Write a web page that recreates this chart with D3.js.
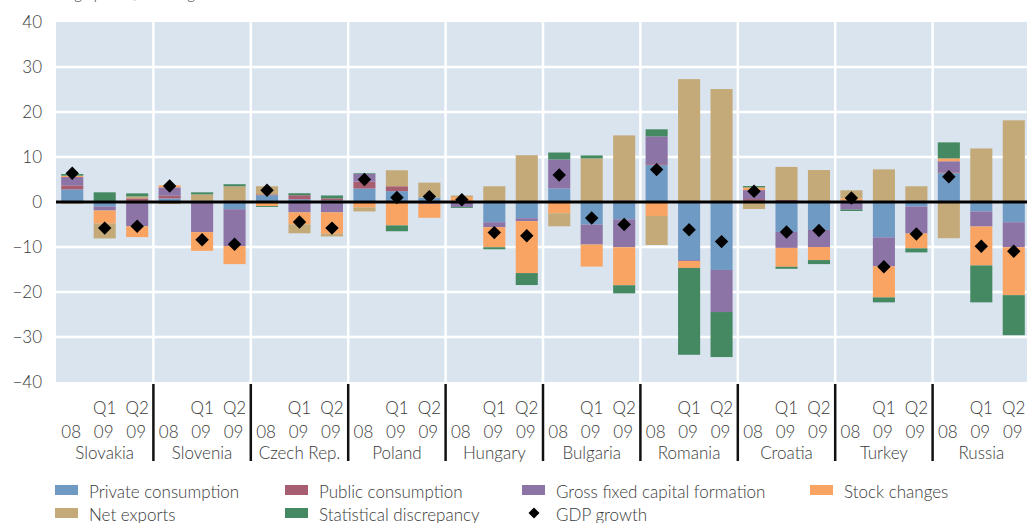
<!DOCTYPE html>
<html>
<head>
  <meta charset="utf-8">
  <style>
    body { margin: 0; background: #fff; }
    svg text { font-family: "Lato", "Open Sans", sans-serif; font-weight: 300; fill: #3a3a3a; }
  </style>
</head>
<body>
  <svg></svg>
  <script src="https://d3js.org/d3.v7.min.js"></script>
  <script>
    // chart data
    const countries = ["Slovakia", "Slovenia", "Czech Rep.", "Poland", "Hungary",
                       "Bulgaria", "Romania", "Croatia", "Turkey", "Russia"];
    const periods = ["08", "Q1 09", "Q2 09"];
    const tickTop = ["", "Q1", "Q2"];
    const tickBottom = ["08", "09", "09"];

    // contributions, percentage points (3 periods per country)
    const privateCons = [2.8, -1.0, 0,   0.8, 0, -1.6,   1.5, 0.6, 0.35,   3.0, 2.4, 1.0,   0, -4.5, -3.6,
                         3.0, -5.0, -3.85,   8.2, -12.9, -15.1,   0, -6.65, -6.2,   0, -7.85, -1.0,   6.4, -2.1, -4.5];
    const publicCons = [0.9, 0, 0.8,   0.6, 0.3, 0.3,   0.2, 0.9, 0.45,   1.55, 1.1, 0,   0, 0, 0,
                        0, 0, 0.35,   0.2, 0, 0,   0.65, 0.45, 0,   0.35, 0, 0,   0.2, 0, 0];
    const gfcf = [1.85, -0.9, -5.4,   1.85, -6.7, -8.2,   0, -2.3, -2.3,   1.7, 0, -0.4,   -1.1, -1.1, -0.65,
                  6.45, -4.45, -6.2,   6.2, -0.2, -9.35,   2.0, -3.55, -3.8,   -1.7, -6.45, -6.0,   2.45, -3.35, -5.55];
    const stockChg = [0.3, -2.9, -2.4,   0.45, -4.15, -4.0,   -0.9, -2.65, -4.75,   -1.2, -5.2, -3.1,   1.1, -4.45, -11.55,
                      -2.5, -4.9, -8.45,   -3.1, -1.55, 0,   0.6, -4.2, -2.9,   0.45, -6.9, -3.3,   0.65, -8.65, -10.65];
    const netExports = [-0.37, -3.3, 0.45,   -0.45, 1.4, 3.2,   1.8, -2.0, -0.6,   -0.9, 3.55, 3.3,   0.35, 3.5, 10.4,
                        -2.9, 9.7, 14.45,   -6.45, 27.3, 25.1,   -1.55, 7.35, 7.1,   1.8, 7.25, 3.5,   -8.05, 11.9, 18.15];
    const statDisc = [0.37, 2.15, 0.67,   0, 0.45, 0.45,   -0.2, 0.45, 0.65,   0.15, -1.3, 0,   -0.2, -0.45, -2.65,
                      1.55, 0.65, -1.8,   1.55, -19.3, -10.0,   0.3, -0.45, -0.9,   -0.3, -1.1, -0.9,   3.55, -8.2, -8.9];
    const gdpGrowth = [6.4, -5.8, -5.4,   3.55, -8.4, -9.4,   2.6, -4.45, -5.8,   5.0, 1.0, 1.2,   0.5, -6.8, -7.5,
                       6.0, -3.55, -5.0,   7.2, -6.15, -8.8,   2.4, -6.65, -6.35,   0.9, -14.4, -7.1,   5.6, -9.85, -10.95];

    const seriesNames = ["Private consumption", "Public consumption", "Gross fixed capital formation",
                         "Stock changes", "Net exports", "Statistical discrepancy"];
    const seriesColors = ["#6f9ac4", "#a75e70", "#8c74a7", "#f9a462", "#c4aa78", "#458962"];

    let width = 1027, height = 523;
    let svg = d3.select("svg").attr("width", width).attr("height", height);

    const plotLeft = 56, plotRight = 1030, plotTop = 22, plotBottom = 382;

    let y = d3.scaleLinear().domain([-40, 40]).range([plotBottom, plotTop]);
    let x0 = d3.scaleBand().domain(countries).range([plotLeft, plotRight]);
    let x1 = d3.scaleBand().domain(periods).range([0, x0.bandwidth()])
      .paddingInner(0.32).paddingOuter(0.16);

    // build a row for every bar
    const allSeries = [privateCons, publicCons, gfcf, stockChg, netExports, statDisc];
    let rows = [];
    countries.forEach((c, i) => {
      periods.forEach((p, j) => {
        let k = i * 3 + j;
        let r = { country: c, period: p, gdp: gdpGrowth[k] };
        seriesNames.forEach((s, si) => r[s] = allSeries[si][k]);
        rows.push(r);
      });
    });

    let stacked = d3.stack().keys(seriesNames).offset(d3.stackOffsetDiverging)(rows);
    let color = d3.scaleOrdinal().domain(seriesNames).range(seriesColors);

    // units line, mostly cut off at the top
    svg.append("text").attr("x", 18).attr("y", -1).style("font-size", "15px")
      .text("Percentage points, % change");

    // plot background
    svg.append("rect").attr("x", plotLeft).attr("y", plotTop)
      .attr("width", plotRight - plotLeft).attr("height", plotBottom - plotTop).attr("fill", "#dae4ef");

    // gridlines
    svg.append("g").selectAll("line").data(d3.range(-30, 40, 10)).join("line")
      .attr("x1", plotLeft).attr("x2", plotRight)
      .attr("y1", d => y(d)).attr("y2", d => y(d))
      .attr("stroke", "#fff").attr("stroke-width", 2.5);
    svg.append("g").selectAll("line").data(countries.slice(1)).join("line")
      .attr("x1", d => x0(d)).attr("x2", d => x0(d))
      .attr("y1", plotTop).attr("y2", plotBottom)
      .attr("stroke", "#fff").attr("stroke-width", 2.5);

    // y axis
    let yAxis = svg.append("g").attr("transform", "translate(" + (plotLeft - 14) + ",0)")
      .call(d3.axisLeft(y).tickValues(d3.range(-40, 41, 10)).tickSize(0).tickPadding(0));
    yAxis.select(".domain").remove();
    yAxis.attr("font-family", null).attr("font-size", null);
    yAxis.selectAll("text").style("font-size", "17px").attr("fill", null);

    // stacked bars
    svg.append("g").selectAll("g").data(stacked).join("g")
      .attr("fill", d => color(d.key))
      .selectAll("rect").data(d => d).join("rect")
      .attr("x", d => x0(d.data.country) + x1(d.data.period))
      .attr("width", x1.bandwidth())
      .attr("y", d => y(d[1]))
      .attr("height", d => y(d[0]) - y(d[1]));

    // zero line
    svg.append("line").attr("x1", plotLeft).attr("x2", plotRight)
      .attr("y1", y(0)).attr("y2", y(0))
      .attr("stroke", "#000").attr("stroke-width", 3);

    // GDP growth diamonds
    let diamond = d3.symbol().type(d3.symbolSquare).size(90);
    svg.append("g").selectAll("path").data(rows).join("path")
      .attr("d", diamond)
      .attr("transform", d => "translate(" + (x0(d.country) + x1(d.period) + x1.bandwidth() / 2) + "," + y(d.gdp) + ") rotate(45)")
      .attr("fill", "#000");

    // category axis below the plot
    let xg = svg.append("g");
    xg.selectAll("line").data(countries.slice(1)).join("line")
      .attr("x1", d => x0(d)).attr("x2", d => x0(d))
      .attr("y1", plotBottom + 2).attr("y2", 461)
      .attr("stroke", "#111").attr("stroke-width", 2.5);
    countries.forEach(c => {
      periods.forEach((p, j) => {
        let cx = x0(c) + x1(p) + x1.bandwidth() / 2;
        xg.append("text").attr("x", cx).attr("y", 414).attr("text-anchor", "middle")
          .style("font-size", "17px").text(tickTop[j]);
        xg.append("text").attr("x", cx - 1).attr("y", 438).attr("text-anchor", "middle")
          .style("font-size", "17px").text(tickBottom[j]);
      });
      xg.append("text").attr("x", x0(c) + x0.bandwidth() / 2).attr("y", 459)
        .attr("text-anchor", "middle").style("font-size", "17px").text(c);
    });

    // legend
    const legendPos = [[55, 485], [285, 485], [522, 485], [810, 485], [55, 508], [285, 508]];
    let lg = svg.append("g");
    seriesNames.forEach((s, i) => {
      lg.append("rect").attr("x", legendPos[i][0]).attr("y", legendPos[i][1])
        .attr("width", 23).attr("height", 10).attr("fill", color(s));
      lg.append("text").attr("x", legendPos[i][0] + 34).attr("y", legendPos[i][1] + 13)
        .style("font-size", "17px").text(s);
    });
    lg.append("path").attr("d", d3.symbol().type(d3.symbolSquare).size(60))
      .attr("transform", "translate(534,513) rotate(45)").attr("fill", "#000");
    lg.append("text").attr("x", 556).attr("y", 521).style("font-size", "17px").text("GDP growth");
  </script>
</body>
</html>
